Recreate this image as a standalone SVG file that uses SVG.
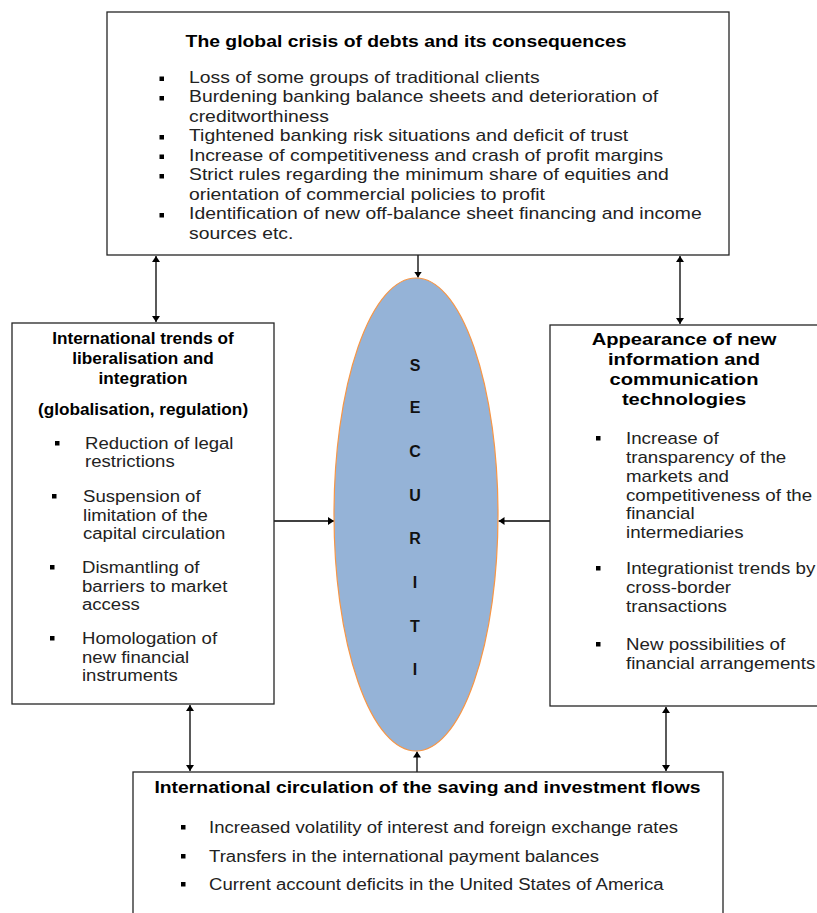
<svg xmlns="http://www.w3.org/2000/svg" width="817" height="913" viewBox="0 0 817 913">
<defs>
<style>
.box{fill:#fff;stroke:#262626;stroke-width:1.3}
.t{font-family:"Liberation Sans",Arial,sans-serif;font-size:16px;fill:#222}
.b{font-family:"Liberation Sans",Arial,sans-serif;font-size:16px;font-weight:bold;fill:#000}
.m{text-anchor:middle}
.bul{fill:#000}
.con{stroke:#000;stroke-width:1.3;fill:none}
.sec{font-family:"Liberation Sans",Arial,sans-serif;font-size:16px;font-weight:bold;fill:#111;text-anchor:middle}
</style>
<marker id="ah" viewBox="0 0 6 8" refX="6" refY="4" markerWidth="6" markerHeight="8" markerUnits="userSpaceOnUse" orient="auto-start-reverse">
<path d="M0,0 L6,4 L0,8 z" fill="#000"/>
</marker>
</defs>
<rect width="817" height="913" fill="#fff"/>

<g id="connectors">
<line class="con" x1="418" y1="255" x2="418" y2="277.5" marker-end="url(#ah)"/>
<line class="con" x1="156" y1="256" x2="156" y2="322" marker-start="url(#ah)" marker-end="url(#ah)"/>
<line class="con" x1="680" y1="256" x2="680" y2="324" marker-start="url(#ah)" marker-end="url(#ah)"/>
<line class="con" x1="274" y1="521" x2="334" y2="521" marker-end="url(#ah)"/>
<line class="con" x1="550" y1="521" x2="498.5" y2="521" marker-end="url(#ah)"/>
<line class="con" x1="190" y1="705" x2="190" y2="771" marker-start="url(#ah)" marker-end="url(#ah)"/>
<line class="con" x1="666" y1="707" x2="666" y2="771" marker-start="url(#ah)" marker-end="url(#ah)"/>
<line class="con" x1="417" y1="772" x2="417" y2="751.5" marker-end="url(#ah)"/>
</g>

<g id="top-box">
<rect class="box" x="107" y="12" width="622" height="243"/>
<g transform="translate(406 0) scale(1.21 1)"><text class="b m" x="0" y="47">The global crisis of debts and its consequences</text></g>
<rect class="bul" x="159.5" y="76.5" width="4.5" height="4.5"/>
<rect class="bul" x="159.5" y="96" width="4.5" height="4.5"/>
<rect class="bul" x="159.5" y="135" width="4.5" height="4.5"/>
<rect class="bul" x="159.5" y="154.5" width="4.5" height="4.5"/>
<rect class="bul" x="159.5" y="174" width="4.5" height="4.5"/>
<rect class="bul" x="159.5" y="213" width="4.5" height="4.5"/>
<g transform="translate(189 0) scale(1.21 1)">
<text class="t" x="0" y="83">Loss of some groups of traditional clients</text>
<text class="t" x="0" y="102.5">Burdening banking balance sheets and deterioration of</text>
<text class="t" x="0" y="122">creditworthiness</text>
<text class="t" x="0" y="141.5">Tightened banking risk situations and deficit of trust</text>
<text class="t" x="0" y="161">Increase of competitiveness and crash of profit margins</text>
<text class="t" x="0" y="180.5">Strict rules regarding the minimum share of equities and</text>
<text class="t" x="0" y="200">orientation of commercial policies to profit</text>
<text class="t" x="0" y="219.5">Identification of new off-balance sheet financing and income</text>
<text class="t" x="0" y="239">sources etc.</text>
</g>
</g>

<g id="left-box">
<rect class="box" x="12" y="323" width="262" height="381"/>
<g transform="translate(143 0) scale(1.075 1)">
<text class="b m" x="0" y="344">International trends of</text>
<text class="b m" x="0" y="364">liberalisation and</text>
<text class="b m" x="0" y="384">integration</text>
<text class="b m" x="0" y="415">(globalisation, regulation)</text>
</g>
<rect class="bul" x="55" y="441" width="4.5" height="4.5"/>
<rect class="bul" x="52" y="494" width="4.5" height="4.5"/>
<rect class="bul" x="50" y="565" width="4.5" height="4.5"/>
<rect class="bul" x="50" y="636" width="4.5" height="4.5"/>
<g transform="translate(82 0) scale(1.16 1)">
<text class="t" x="2.6" y="449">Reduction of legal</text>
<text class="t" x="2.6" y="467">restrictions</text>
<text class="t" x="0.9" y="502">Suspension of</text>
<text class="t" x="0.9" y="521">limitation of the</text>
<text class="t" x="0.9" y="539">capital circulation</text>
<text class="t" x="0" y="573">Dismantling of</text>
<text class="t" x="0" y="592">barriers to market</text>
<text class="t" x="0" y="610">access</text>
<text class="t" x="0" y="644">Homologation of</text>
<text class="t" x="0" y="663">new financial</text>
<text class="t" x="0" y="681">instruments</text>
</g>
</g>

<g id="center-ellipse">
<ellipse cx="416" cy="514.5" rx="82" ry="236.5" fill="#95B3D7" stroke="#F79646" stroke-width="1.2"/>
<text class="sec" x="415" y="371">S</text>
<text class="sec" x="415" y="413">E</text>
<text class="sec" x="415" y="457">C</text>
<text class="sec" x="415" y="501">U</text>
<text class="sec" x="415" y="544">R</text>
<text class="sec" x="415" y="588">I</text>
<text class="sec" x="415" y="632">T</text>
<text class="sec" x="415" y="675">I</text>
</g>

<g id="right-box">
<rect class="box" x="550" y="325" width="280" height="381"/>
<g transform="translate(684 0) scale(1.26 1)">
<text class="b m" x="0" y="345">Appearance of new</text>
<text class="b m" x="0" y="365">information and</text>
<text class="b m" x="0" y="385">communication</text>
<text class="b m" x="0" y="405">technologies</text>
</g>
<rect class="bul" x="596" y="436" width="4.5" height="4.5"/>
<rect class="bul" x="596" y="566" width="4.5" height="4.5"/>
<rect class="bul" x="596" y="642" width="4.5" height="4.5"/>
<g transform="translate(626 0) scale(1.17 1)">
<text class="t" x="0" y="444">Increase of</text>
<text class="t" x="0" y="463">transparency of the</text>
<text class="t" x="0" y="482">markets and</text>
<text class="t" x="0" y="501">competitiveness of the</text>
<text class="t" x="0" y="519">financial</text>
<text class="t" x="0" y="538">intermediaries</text>
<text class="t" x="0" y="574">Integrationist trends by</text>
<text class="t" x="0" y="593">cross-border</text>
<text class="t" x="0" y="612">transactions</text>
<text class="t" x="0" y="650">New possibilities of</text>
<text class="t" x="0" y="669">financial arrangements</text>
</g>
</g>

<g id="bottom-box">
<rect class="box" x="133" y="772" width="590" height="160"/>
<g transform="translate(427.5 0) scale(1.21 1)"><text class="b m" x="0" y="793">International circulation of the saving and investment flows</text></g>
<rect class="bul" x="181" y="825" width="4.5" height="4.5"/>
<rect class="bul" x="181" y="854" width="4.5" height="4.5"/>
<rect class="bul" x="181" y="882" width="4.5" height="4.5"/>
<g transform="translate(209 0) scale(1.16 1)">
<text class="t" x="0" y="833">Increased volatility of interest and foreign exchange rates</text>
<text class="t" x="0" y="862">Transfers in the international payment balances</text>
<text class="t" x="0" y="890">Current account deficits in the United States of America</text>
</g>
</g>
</svg>
